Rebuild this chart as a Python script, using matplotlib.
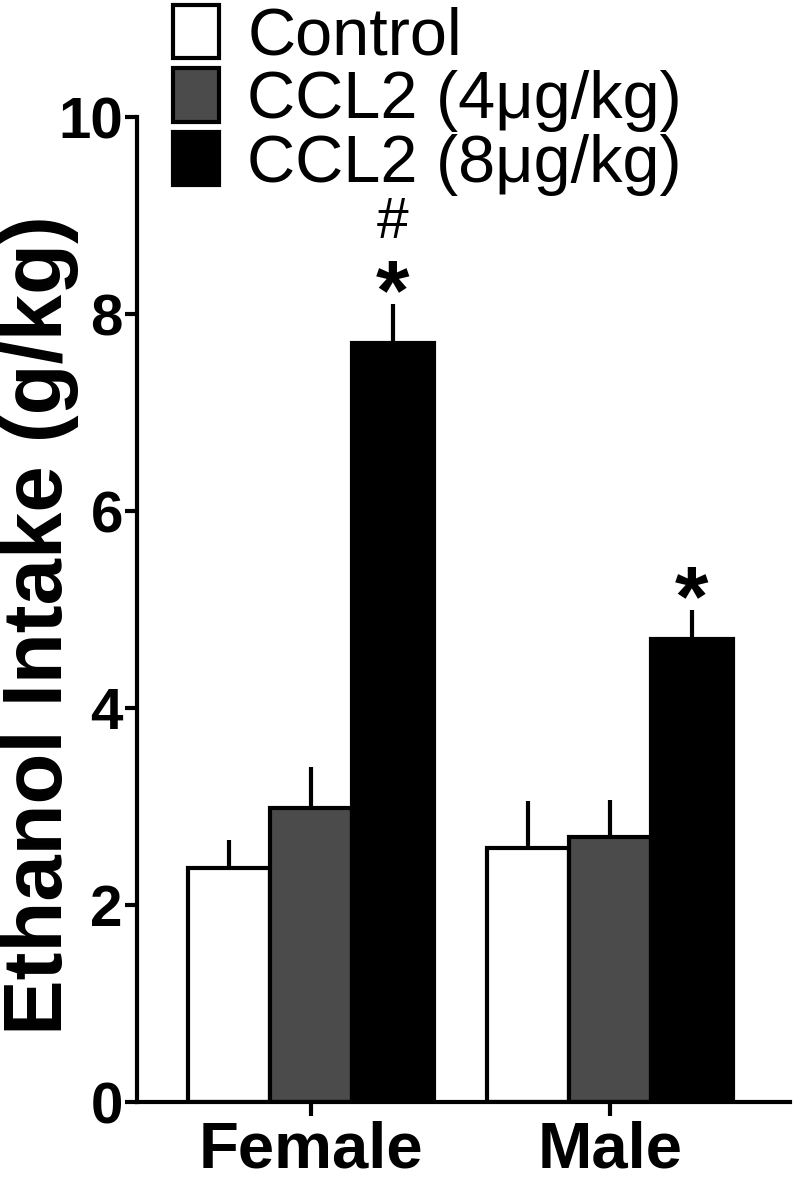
import numpy as np
import matplotlib
matplotlib.use('Agg')
import matplotlib.pyplot as plt

plt.rcParams['font.family'] = ['Liberation Sans', 'DejaVu Sans']

# ---- data ---------------------------------------------------------------
GROUPS = ['Female', 'Male']
SERIES = ['Control', 'CCL2 (4\u03bcg/kg)', 'CCL2 (8\u03bcg/kg)']
COLOURS = ['#ffffff', '#4b4b4b', '#000000']

means = [
    [2.38, 2.58],   # Control
    [2.98, 2.69],   # CCL2 4
    [7.71, 4.70],   # CCL2 8
]
sems = [
    [0.28, 0.48],
    [0.42, 0.38],
    [0.39, 0.30],
]
# significance marks above the bars: (series index, group index)
marks_star = [(2, 0), (2, 1)]
marks_hash = [(2, 0)]

# ---- figure -------------------------------------------------------------
fig = plt.figure(figsize=(8, 11.87), dpi=100)
ax = fig.add_axes([0.171, 0.0716, 0.8165, 0.8298])

x = np.arange(len(GROUPS))
w = 0.274
bars = []
for i, name in enumerate(SERIES):
    xs = x + (i - 1) * w
    b = ax.bar(xs, means[i], width=w, color=COLOURS[i], edgecolor='black',
               linewidth=3, label=name, zorder=2)
    ax.errorbar(xs, means[i], yerr=[np.zeros(len(GROUPS)), sems[i]],
                fmt='none', ecolor='black', elinewidth=3, capsize=0, zorder=1)
    bars.append(b)

for si, gi in marks_star:
    ax.annotate('*', xy=(x[gi] + (si - 1) * w, means[si][gi] + sems[si][gi]),
                xytext=(0, -11), textcoords='offset points',
                ha='center', va='baseline', fontsize=62, fontweight='bold')
for si, gi in marks_hash:
    ax.annotate('#', xy=(x[gi] + (si - 1) * w, means[si][gi] + sems[si][gi]),
                xytext=(0, 48), textcoords='offset points',
                ha='center', va='baseline', fontsize=41)

ax.set_xlim(-0.582, 1.602)
ax.set_ylim(0, 10)
ax.set_yticks([0, 2, 4, 6, 8, 10])
ax.set_xticks(x)
ax.set_xticklabels(GROUPS, fontsize=47, fontweight='bold')
for lab in ax.get_yticklabels():
    lab.set_fontsize(42)
    lab.set_fontweight('bold')
ax.tick_params(axis='y', length=9, width=3, pad=1)
ax.tick_params(axis='x', length=10, width=3, pad=3)

for side in ['top', 'right']:
    ax.spines[side].set_visible(False)
for side in ['left', 'bottom']:
    ax.spines[side].set_linewidth(3)

ax.set_ylabel('Ethanol Intake (g/kg)', fontsize=60, fontweight='bold')
ax.yaxis.set_label_coords(-0.089, 0.484)

leg = ax.legend(handles=bars, loc='upper left',
                bbox_to_anchor=(0.216, 0.996), bbox_transform=fig.transFigure,
                frameon=False, fontsize=48, handlelength=0.7,
                handleheight=0.85, handletextpad=0.42, labelspacing=0.0,
                borderpad=0, borderaxespad=0)

fig.savefig('out.png', dpi=100)
